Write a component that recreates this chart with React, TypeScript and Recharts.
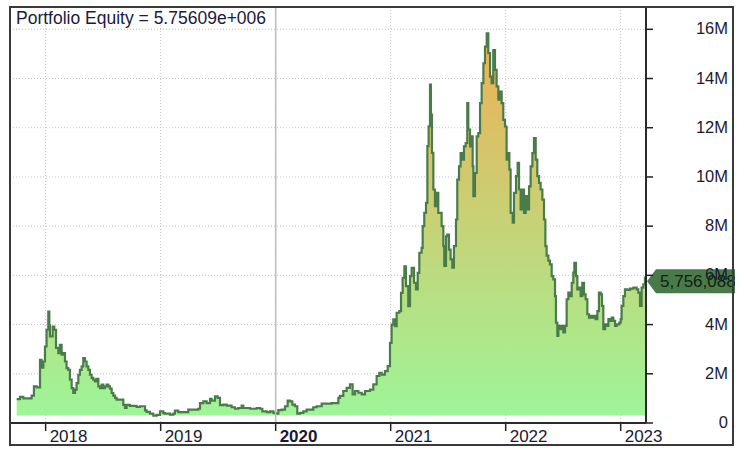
import {
  ComposedChart,
  Area,
  XAxis,
  YAxis,
  CartesianGrid,
  ReferenceLine,
  ReferenceDot,
} from 'recharts';

const FONT = '"Liberation Sans", Arial, sans-serif';

const yearTicks = [2018, 2019, 2020, 2021, 2022, 2023];
const equityTicks = [0, 2, 4, 6, 8, 10, 12, 14, 16];
const lastEquity = 5756088;

// time in fractional years
const t = [
  2017.748, 2017.777, 2017.806, 2017.849, 2017.878, 2017.898, 2017.922, 2017.951, 2017.965, 2017.98,
  2017.994, 2018.008, 2018.023, 2018.032, 2018.037, 2018.061, 2018.075, 2018.09, 2018.11, 2018.124,
  2018.139, 2018.153, 2018.168, 2018.182, 2018.197, 2018.211, 2018.226, 2018.24, 2018.255, 2018.269,
  2018.284, 2018.298, 2018.313, 2018.327, 2018.342, 2018.356, 2018.371, 2018.385, 2018.4, 2018.414,
  2018.429, 2018.443, 2018.458, 2018.472, 2018.487, 2018.501, 2018.516, 2018.53, 2018.545, 2018.559,
  2018.574, 2018.588, 2018.603, 2018.617, 2018.646, 2018.675, 2018.69, 2018.704, 2018.733, 2018.762,
  2018.791, 2018.82, 2018.849, 2018.864, 2018.878, 2018.907, 2018.936, 2018.965, 2018.994, 2019.023,
  2019.037, 2019.081, 2019.11, 2019.124, 2019.153, 2019.211, 2019.24, 2019.298, 2019.327, 2019.342,
  2019.371, 2019.4, 2019.429, 2019.443, 2019.472, 2019.495, 2019.516, 2019.545, 2019.574, 2019.603,
  2019.617, 2019.646, 2019.675, 2019.704, 2019.719, 2019.748, 2019.777, 2019.806, 2019.835, 2019.864,
  2019.884, 2019.922, 2019.951, 2019.98, 2020.0, 2020.023, 2020.052, 2020.081, 2020.104, 2020.124,
  2020.145, 2020.168, 2020.188, 2020.211, 2020.24, 2020.269, 2020.298, 2020.327, 2020.356, 2020.385,
  2020.4, 2020.458, 2020.487, 2020.53, 2020.545,
  2020.559, 2020.588, 2020.617, 2020.646, 2020.669, 2020.69, 2020.719, 2020.748, 2020.777, 2020.82,
  2020.849, 2020.878, 2020.901, 2020.922, 2020.95, 2020.974, 2020.994, 2021.008, 2021.023, 2021.037,
  2021.052, 2021.075, 2021.09, 2021.104, 2021.119, 2021.133, 2021.153, 2021.168, 2021.182, 2021.203,
  2021.22, 2021.235, 2021.249, 2021.269, 2021.278, 2021.292, 2021.307, 2021.319, 2021.33, 2021.342,
  2021.35, 2021.359, 2021.371, 2021.385, 2021.4, 2021.414,
  2021.429, 2021.443, 2021.458, 2021.466, 2021.481, 2021.492, 2021.507, 2021.521, 2021.536, 2021.55,
  2021.568, 2021.579, 2021.594, 2021.608, 2021.623, 2021.637, 2021.652, 2021.666, 2021.675, 2021.69,
  2021.704, 2021.713, 2021.719, 2021.733, 2021.748, 2021.762, 2021.777, 2021.791, 2021.806, 2021.82,
  2021.835, 2021.849, 2021.864, 2021.878, 2021.892, 2021.907, 2021.921, 2021.936, 2021.95, 2021.965,
  2021.979, 2021.994, 2022.008, 2022.023, 2022.032, 2022.043, 2022.061, 2022.072, 2022.09, 2022.104,
  2022.116, 2022.13, 2022.145, 2022.159, 2022.174, 2022.188, 2022.203, 2022.217, 2022.232, 2022.246,
  2022.261, 2022.275, 2022.29, 2022.304, 2022.319, 2022.333, 2022.345,
  2022.356, 2022.371, 2022.385, 2022.4, 2022.414, 2022.429, 2022.437, 2022.449, 2022.458, 2022.472,
  2022.487, 2022.501, 2022.516, 2022.53, 2022.545, 2022.559, 2022.574, 2022.588, 2022.597, 2022.611,
  2022.623, 2022.637, 2022.652, 2022.666, 2022.681, 2022.695, 2022.71, 2022.724, 2022.739, 2022.753,
  2022.768, 2022.782, 2022.797, 2022.811, 2022.826, 2022.837, 2022.849, 2022.864, 2022.878, 2022.893,
  2022.907, 2022.922, 2022.936, 2022.951, 2022.965, 2022.988, 2023.0, 2023.008, 2023.023, 2023.037,
  2023.058, 2023.081, 2023.11, 2023.139, 2023.153, 2023.168, 2023.182, 2023.197, 2023.211, 2023.22,
];

// portfolio equity, millions
const equity = [
  0.97, 1.06, 1.0, 1.0, 1.11, 1.49, 1.45, 2.57, 2.25, 2.5,
  3.11, 3.79, 4.53, 3.97, 3.52, 3.92, 3.79, 3.05, 2.84, 3.18,
  2.78, 2.84, 2.5, 2.23, 2.16, 1.76, 1.42, 1.22, 1.36, 1.62,
  1.96, 2.16, 2.3, 2.64, 2.5, 2.3, 2.16, 1.96, 1.83, 1.76,
  1.69, 1.79, 1.49, 1.42, 1.56, 1.42, 1.49, 1.56, 1.49, 1.4,
  1.22, 1.11, 1.02, 0.95, 0.95, 0.74, 0.61, 0.74, 0.7, 0.7,
  0.65, 0.68, 0.68, 0.51, 0.45, 0.38, 0.3, 0.33, 0.47, 0.4,
  0.38, 0.34, 0.38, 0.5, 0.44, 0.44, 0.54, 0.54, 0.58, 0.81,
  0.88, 0.81, 0.98, 0.91, 1.08, 1.02, 0.73, 0.75, 0.71, 0.71,
  0.64, 0.58, 0.61, 0.71, 0.61, 0.61, 0.58, 0.58, 0.61, 0.58,
  0.47, 0.44, 0.47, 0.41, 0.38, 0.52, 0.54, 0.68, 0.91, 0.88,
  0.75, 0.68, 0.38, 0.41, 0.47, 0.54, 0.54, 0.64, 0.68, 0.68,
  0.79, 0.79, 0.81, 0.81, 1.02,
  1.1, 1.3, 1.43, 1.57, 1.16, 1.3, 1.23, 1.16, 1.3, 1.36,
  1.57, 1.91, 2.04, 1.97, 2.11, 2.31, 3.26, 4.0, 4.21, 3.94,
  4.48, 4.55, 5.29, 5.9, 6.37, 5.56, 4.75, 5.97, 6.31, 5.7,
  5.43, 6.1, 6.92, 7.12, 8.0, 8.54, 8.95, 11.25, 12.06, 13.75,
  12.53, 10.98, 9.49, 8.81, 9.35, 8.54,
  8.54, 8.0, 7.19, 6.38, 7.59, 7.66, 7.05, 6.65, 6.31, 7.19,
  8.27, 9.89, 10.43, 10.97, 10.7, 11.24, 11.38, 13.0, 11.92, 11.24,
  11.65, 10.43, 9.22, 10.16, 11.65, 11.78, 13.0, 13.81, 14.62, 15.3,
  15.84, 15.03, 14.08, 13.81, 15.16, 14.35, 13.68, 13.14, 13.47, 13.0,
  12.32, 12.05, 10.7, 10.97, 10.3, 8.54, 8.14, 9.35, 10.03, 10.57,
  9.49, 8.68, 9.49, 8.54, 9.22, 8.68, 9.62, 10.43, 10.97, 11.58,
  10.7, 10.03, 9.76, 9.49, 9.08, 8.27, 7.19,
  6.8, 6.6, 6.45, 5.97, 5.84, 5.16, 4.08, 3.54, 3.95, 3.81,
  3.95, 3.68, 3.95, 5.03, 5.3, 5.16, 5.7, 6.11, 6.51, 5.97,
  5.43, 5.5, 5.16, 5.7, 5.23, 5.03, 4.42, 4.28, 4.35, 4.28,
  4.35, 4.22, 4.55, 5.3, 5.23, 4.76, 3.81, 4.01, 3.95, 4.22,
  4.15, 4.28, 4.15, 3.95, 4.01, 4.08, 4.22, 4.76, 5.16, 5.43,
  5.41, 5.46, 5.5, 5.43, 5.3, 4.76, 5.5, 5.64, 5.91, 5.756,
];

const data = t.map((x, i) => ({ t: x, v: equity[i] }));
const minEquity = Math.min(...equity);
const lastT = t[t.length - 1];
const lastV = equity[equity.length - 1];

function YearTick({ x, y, payload }: any) {
  const bold = payload.value === 2020;
  return (
    <g>
      <line x1={x} y1={y + 1} x2={x} y2={y + 8} stroke="#222" strokeWidth={1.5} />
      <text x={x + 4} y={y + 19} fontSize={17} fontFamily={FONT} fontWeight={bold ? 700 : 400} fill="#1a1a33">
        {payload.value}
      </text>
    </g>
  );
}

function EquityTick({ x, y, payload }: any) {
  return (
    <g>
      <line x1={x} y1={y} x2={x + 7} y2={y} stroke="#222" strokeWidth={1.5} />
      <text x={x + 82} y={y + 5} textAnchor="end" fontSize={16.5} fontFamily={FONT} fill="#1a1a33">
        {payload.value === 0 ? '0' : `${payload.value}M`}
      </text>
    </g>
  );
}

// price tag on the right axis, like the last-value marker
function ValueTag({ cx, cy }: any) {
  const x = cx + 1;
  const pts = `${x},${cy} ${x + 9},${cy - 12} ${x + 100},${cy - 12} ${x + 100},${cy + 12} ${x + 9},${cy + 12}`;
  return (
    <g>
      <polygon points={pts} fill="#4a7a4a" />
      <text x={x + 13} y={cy + 6} fontSize={17} fontFamily={FONT} fill="#102010">
        {lastEquity.toLocaleString('en-US')}
      </text>
    </g>
  );
}

export default function App() {
  return (
    <div style={{ position: 'absolute', left: 0, top: 0, width: 744, height: 453, background: '#fff' }}>
      <div style={{ position: 'absolute', left: 0, top: 0, width: 735, height: 453, overflow: 'hidden' }}>
        <ComposedChart width={744} height={453} data={data} margin={{ top: 7, right: 10, bottom: 7, left: 10 }}>
          <defs>
            <linearGradient id="eqFill" x1="0" y1="0" x2="0" y2="1">
              <stop offset="0%" stopColor="#efaf55" />
              <stop offset="100%" stopColor="#9ef598" />
            </linearGradient>
          </defs>
          <CartesianGrid stroke="#c4c4c4" strokeDasharray="1 2" />
          <XAxis
            dataKey="t"
            type="number"
            domain={[2017.69, 2023.22]}
            ticks={yearTicks}
            interval={0}
            allowDataOverflow
            height={23}
            tickSize={0}
            tickMargin={0}
            axisLine={{ stroke: '#2a2a2a', strokeWidth: 2 }}
            tickLine={false}
            tick={<YearTick />}
          />
          <YAxis
            orientation="right"
            type="number"
            domain={[0, 16.907]}
            ticks={equityTicks}
            interval={0}
            allowDataOverflow
            width={88}
            tickSize={0}
            tickMargin={0}
            axisLine={{ stroke: '#2a2a2a', strokeWidth: 2 }}
            tickLine={false}
            tick={<EquityTick />}
          />
          <ReferenceLine x={2020} stroke="#bdbdbd" strokeWidth={1.5} />
          <Area
            type="stepAfter"
            dataKey="v"
            stroke="#4a7c4a"
            strokeWidth={2.2}
            fill="url(#eqFill)"
            fillOpacity={1}
            baseValue={minEquity}
            dot={false}
            activeDot={false}
            isAnimationActive={false}
          />
          <ReferenceDot x={lastT} y={lastV} ifOverflow="visible" shape={<ValueTag />} />
        </ComposedChart>
      </div>
      <div
        style={{
          position: 'absolute',
          left: 16,
          top: 8,
          fontFamily: FONT,
          fontSize: 17.5,
          color: '#1a1a40',
          whiteSpace: 'nowrap',
        }}
      >
        Portfolio Equity = 5.75609e+006
      </div>
      <div
        style={{
          position: 'absolute',
          left: 9,
          top: 6,
          width: 725,
          height: 440,
          border: '2px solid #3a3a3a',
          boxSizing: 'border-box',
          pointerEvents: 'none',
        }}
      />
    </div>
  );
}
